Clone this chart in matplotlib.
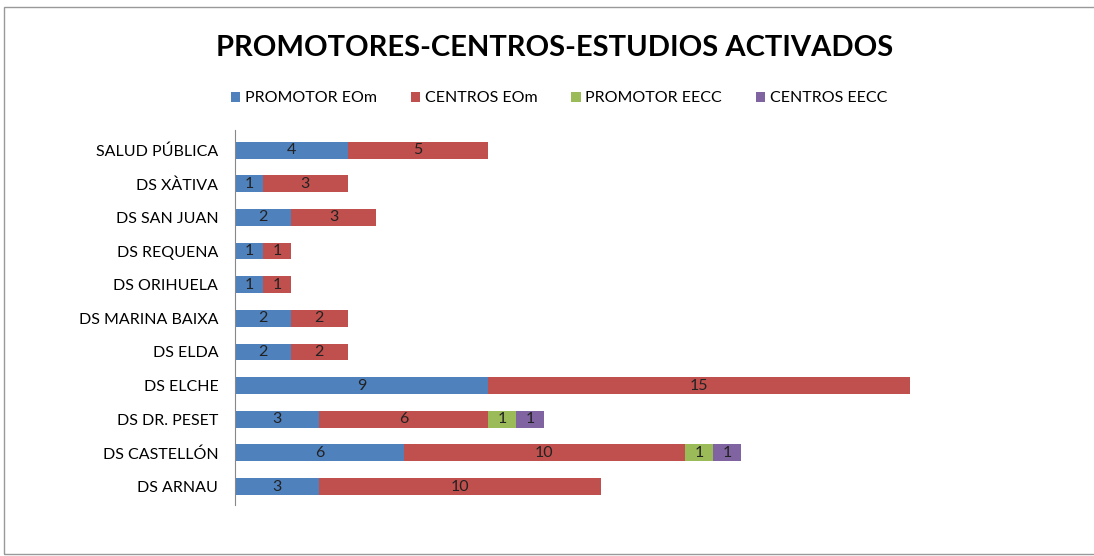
import matplotlib.pyplot as plt
from matplotlib.patches import Rectangle
import numpy as np

plt.rcParams['font.family'] = ['Lato', 'DejaVu Sans']

categories = ["SALUD PÚBLICA", "DS XÀTIVA", "DS SAN JUAN", "DS REQUENA", "DS ORIHUELA",
              "DS MARINA BAIXA", "DS ELDA", "DS ELCHE", "DS DR. PESET", "DS CASTELLÓN", "DS ARNAU"]
promotor_eom = [4, 1, 2, 1, 1, 2, 2, 9, 3, 6, 3]
centros_eom = [5, 3, 3, 1, 1, 2, 2, 15, 6, 10, 10]
promotor_eecc = [0, 0, 0, 0, 0, 0, 0, 0, 1, 1, 0]
centros_eecc = [0, 0, 0, 0, 0, 0, 0, 0, 1, 1, 0]

series = [("PROMOTOR EOm", promotor_eom, "#4F81BD"),
          ("CENTROS EOm", centros_eom, "#C0504D"),
          ("PROMOTOR EECC", promotor_eecc, "#9BBB59"),
          ("CENTROS EECC", centros_eecc, "#8064A2")]

fig = plt.figure(figsize=(10.94, 5.56), dpi=100)
ax = fig.add_axes([0.2148, 0.0917, 0.72, 0.6745])

y = np.arange(len(categories))
left = np.zeros(len(categories))
for name, vals, color in series:
    vals = np.array(vals, dtype=float)
    bars = ax.barh(y, vals, left=left, height=0.5, color=color, label=name)
    labels = [str(int(v)) if v > 0 else "" for v in vals]
    ax.bar_label(bars, labels=labels, label_type="center", fontsize=11.5, color="#222222")
    left += vals

ax.set_xlim(0, 28)
ax.set_ylim(10.55, -0.6)
ax.set_yticks(y)
ax.set_yticklabels(categories, fontsize=11.5)
ax.tick_params(axis="y", length=0, pad=12)
ax.set_xticks([])
for s in ["top", "right", "bottom"]:
    ax.spines[s].set_visible(False)
ax.spines["left"].set_color("#888888")

fig.text(0.507, 0.913, "PROMOTORES-CENTROS-ESTUDIOS ACTIVADOS", ha="center", va="center",
         fontsize=21, fontweight="bold")
fig.legend(loc="center", bbox_to_anchor=(0.511, 0.823), ncol=4, frameon=False, fontsize=11.5,
           handlelength=0.6, handleheight=0.6, handletextpad=0.3, columnspacing=2.1)

fig.patches.append(Rectangle((0.004, 0.004), 1.2, 0.983, transform=fig.transFigure,
                             fill=False, edgecolor="#999999", linewidth=1))

fig.savefig("out.png", dpi=100)
